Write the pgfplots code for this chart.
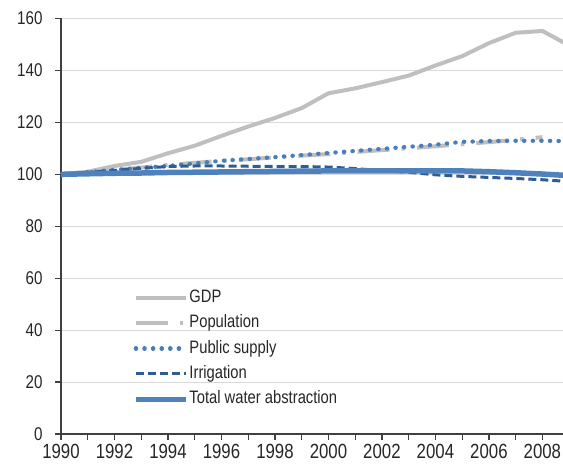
\documentclass[border=0pt]{standalone}
\usepackage{fontspec}
\setmainfont{Liberation Sans}[FakeStretch=0.82]
\usepackage{pgfplots}
\usepackage{pgfplotstable}
\pgfplotsset{compat=1.18}
\definecolor{gdpc}{HTML}{BFBFBF}
\definecolor{pubc}{HTML}{4A7EBB}
\definecolor{irrc}{HTML}{2E5D95}
\definecolor{totc}{HTML}{4F81BD}
\definecolor{gridc}{HTML}{D9D9D9}
\definecolor{axisc}{HTML}{404040}

\pgfplotstableread{
year gdp pop pub irr tot
1990 100.0 100.0 100.0 100.0 100.0
1991 101.0 100.8 100.8 100.8 100.2
1992 103.2 101.6 101.7 101.5 100.4
1993 104.8 102.6 102.5 102.3 100.5
1994 108.1 103.6 103.2 103.0 100.7
1995 111.0 104.4 104.2 103.2 100.8
1996 114.8 105.2 105.2 103.2 100.9
1997 118.4 105.8 105.9 103.1 101.0
1998 121.7 106.5 106.6 103.0 101.1
1999 125.5 107.2 107.4 103.0 101.2
2000 131.2 107.8 108.2 102.8 101.3
2001 133.1 108.6 109.0 102.2 101.3
2002 135.5 109.3 109.8 101.4 101.3
2003 138.0 110.0 110.6 100.8 101.3
2004 141.9 110.8 111.4 99.8 101.3
2005 145.5 111.6 112.5 99.2 101.3
2006 150.5 112.4 112.8 98.8 101.0
2007 154.5 113.3 112.9 98.4 100.6
2008 155.2 114.3 112.9 97.9 100.1
2009 149.6 nan 112.8 97.2 99.5
}\datatable

\begin{document}
\begin{tikzpicture}
\path[use as bounding box] (-61pt,-31pt) rectangle (502pt,434pt);
\begin{axis}[
  at={(0pt,0pt)}, anchor=south west,
  scale only axis, width=502pt, height=415.5pt,
  xmin=1990, xmax=2008.77, ymin=0, ymax=160,
  axis x line*=bottom, axis y line*=left,
  xtick={1990,1992,...,2008}, minor xtick={1991,1993,...,2007},
  ytick={0,20,...,160},
  ymajorgrids, major grid style={gridc, line width=1pt},
  tick align=outside, major tick length=6pt, minor tick length=6pt,
  every tick/.style={axisc, line width=1.2pt},
  axis line style={axisc, line width=1.3pt},
  /pgf/number format/assume math mode=true,
  x tick label style={font=\fontsize{20.5}{23}\selectfont, /pgf/number format/1000 sep={}, yshift=-3pt, inner ysep=1pt, text=black!85},
  y tick label style={font=\fontsize{18.5}{21}\selectfont, xshift=-9pt, text=black!85},
  unbounded coords=jump,
  legend cell align=left,
  legend image code/.code={\draw[#1] (0pt,0pt) -- (50pt,0pt);},
  legend style={draw=none, fill=none, inner sep=0pt,
    at={(rel axis cs:0.143,0.359)}, anchor=north west,
    font=\fontsize{18}{21}\selectfont, row sep=0pt, text=black!85,
    nodes={text height=12.6pt, text depth=3.6pt, inner ysep=4.6pt, inner xsep=1pt}},
]
\addplot[gdpc, line width=4pt, line join=round] table[x=year, y=gdp] {\datatable};
\addlegendentry{GDP}
\addplot[gdpc, line width=4pt, dash pattern=on 32pt off 12pt on 3.5pt off 12pt] table[x=year, y=pop] {\datatable};
\addlegendentry{Population}
\addplot[pubc, line width=4.2pt, line cap=round, dash pattern=on 0.4pt off 8.2pt] table[x=year, y=pub] {\datatable};
\addlegendentry{Public supply}
\addplot[irrc, line width=3pt, dash pattern=on 8pt off 4pt] table[x=year, y=irr] {\datatable};
\addlegendentry{Irrigation}
\addplot[totc, line width=5.5pt, line join=round] table[x=year, y=tot] {\datatable};
\addlegendentry{Total water abstraction}
\end{axis}
\end{tikzpicture}
\end{document}
